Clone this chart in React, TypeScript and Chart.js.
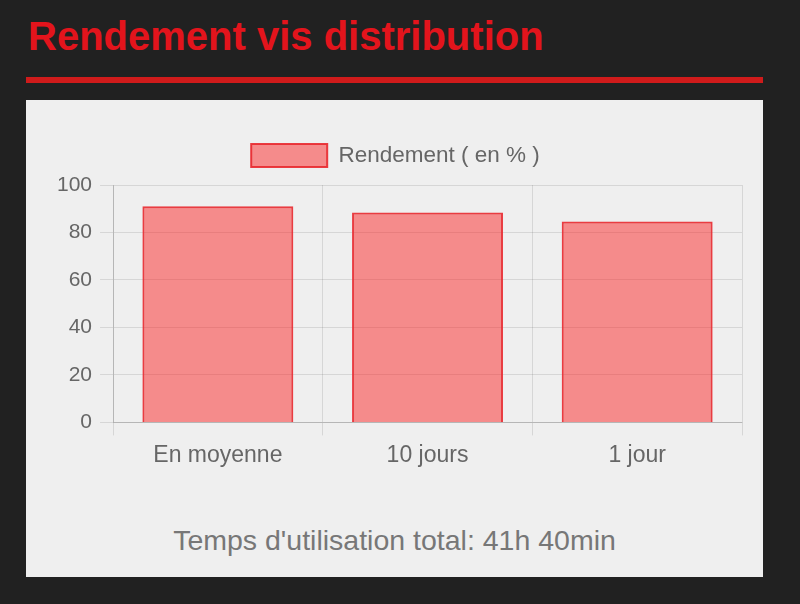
import React, { useEffect, useRef } from 'react';
import { Chart, registerables } from 'chart.js';

Chart.register(...registerables);

const categories = ['En moyenne', '10 jours', '1 jour'];
const rendement = [91, 88.4, 84.6];
const seriesLabel = 'Rendement ( en % )';
const yTicks = [0, 20, 40, 60, 80, 100];

const FONT = "'Liberation Sans', Arial, sans-serif";

// adds some room between the legend and the plot
const legendGap = {
  id: 'legendGap',
  beforeLayout(chart: any) {
    const legend = chart.legend;
    if (!legend || legend._gapPatched) return;
    const fit = legend.fit;
    legend.fit = function () {
      fit.call(this);
      this.height += 8;
    };
    legend._gapPatched = true;
  },
};

const App: React.FC = () => {
  const canvasRef = useRef<HTMLCanvasElement>(null);

  useEffect(() => {
    if (!canvasRef.current) return;
    const chart = new Chart(canvasRef.current, {
      type: 'bar',
      data: {
        labels: categories,
        datasets: [{
          label: seriesLabel,
          data: rendement,
          backgroundColor: 'rgba(250, 30, 30, 0.48)',
          borderColor: 'rgba(232, 40, 45, 0.9)',
          borderWidth: 2,
        }],
      },
      options: {
        animation: false,
        responsive: false,
        maintainAspectRatio: false,
        layout: { padding: { left: 0, right: 13, top: 0, bottom: 4 } },
        plugins: {
          legend: {
            labels: {
              color: '#666',
              boxWidth: 76,
              boxHeight: 23,
              padding: 26,
              font: { size: 22.5, family: FONT },
            },
          },
          tooltip: { enabled: false },
        },
        scales: {
          x: {
            grid: { color: 'rgba(0,0,0,0.1)', tickLength: 13 },
            border: { color: 'rgba(0,0,0,0.15)' },
            ticks: { color: '#666', padding: 6, font: { size: 23, family: FONT } },
          },
          y: {
            min: yTicks[0],
            max: yTicks[yTicks.length - 1],
            grid: { color: 'rgba(0,0,0,0.1)', tickLength: 13 },
            border: { color: 'rgba(0,0,0,0.15)' },
            ticks: { color: '#666', stepSize: 20, padding: 8, font: { size: 21, family: FONT } },
          },
        },
      },
      plugins: [legendGap],
    });
    return () => chart.destroy();
  }, []);

  return (
    <div style={{ position: 'fixed', inset: 0, width: 800, height: 604, background: '#212121', overflow: 'hidden' }}>
      <div style={{
        position: 'absolute', left: 28, top: 16, fontFamily: FONT, fontWeight: 'bold',
        fontSize: 40, lineHeight: '40px', color: '#e3141c', whiteSpace: 'nowrap',
      }}>
        Rendement vis distribution
      </div>
      <div style={{ position: 'absolute', left: 26, top: 77, width: 737, height: 6, background: '#cf1b1b' }} />
      <div style={{ position: 'absolute', left: 26, top: 100, width: 737, height: 477, background: '#efefef' }}>
        <canvas ref={canvasRef} width={706} height={361}
          style={{ position: 'absolute', left: 23, top: 18, width: 706, height: 361 }} />
        <div style={{
          position: 'absolute', left: 0, width: 737, top: 426, textAlign: 'center',
          fontFamily: FONT, fontSize: 28.5, lineHeight: '28px', color: '#777',
        }}>
          Temps d'utilisation total: 41h 40min
        </div>
      </div>
    </div>
  );
};

export default App;
